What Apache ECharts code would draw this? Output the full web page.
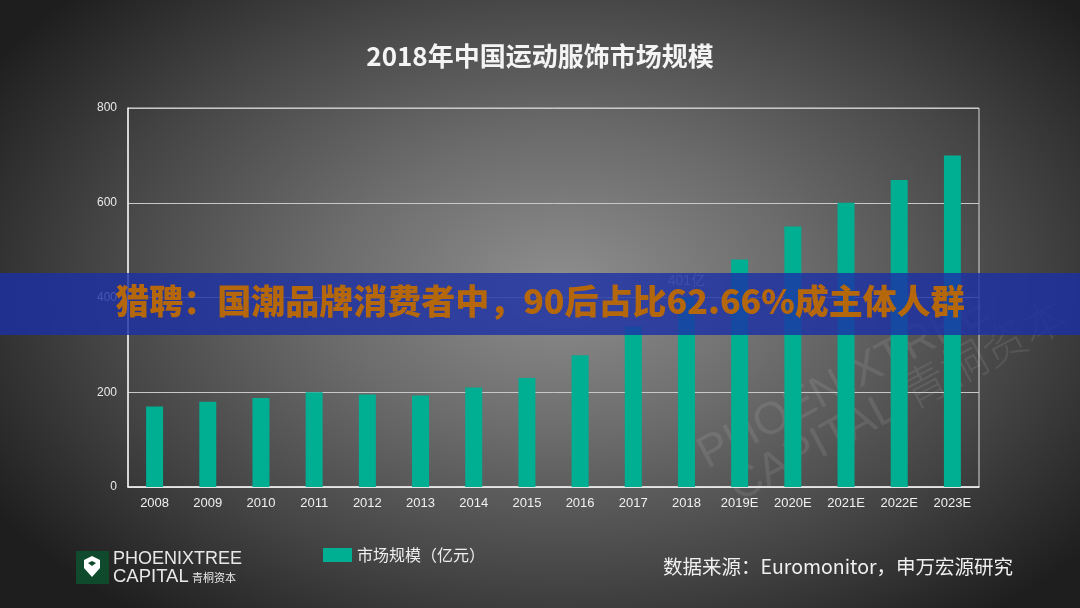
<!DOCTYPE html>
<html><head><meta charset="utf-8">
<script src="https://cdn.jsdelivr.net/npm/echarts@6/dist/echarts.min.js"></script>
<style>
html,body{margin:0;padding:0;}
#c{width:1080px;height:608px;background:radial-gradient(ellipse 62% 70% at 52% 47%, #8e8e8e 0%, #6c6c6c 35%, #444 70%, #1e1e1e 100%);}
</style></head>
<body><div id="c"></div>
<script>
const title = '2018年中国运动服饰市场规模';
const categories = ['2008','2009','2010','2011','2012','2013','2014','2015','2016','2017','2018','2019E','2020E','2021E','2022E','2023E'];
const marketSize = [170,180,188,200,195,193,210,230,278,338,401,480,550,600,648,700];
const seriesName = '市场规模（亿元）';
const labelledIndex = 10;
const labelText = '401亿';
const yTicks = [0,200,400,600,800];
const bannerText = '猎聘：国潮品牌消费者中，90后占比62.66%成主体人群';
const sourceText = '数据来源：Euromonitor，申万宏源研究';

const chart = echarts.init(document.getElementById('c'), null, {renderer:'canvas'});
const font = '"Noto Sans CJK SC","Liberation Sans",sans-serif';
chart.setOption({
  backgroundColor: 'transparent',
  animation: false,
  title: {text: title, left: 'center', top: 38,
    textStyle: {color: '#f4f4f4', fontSize: 26, fontWeight: 'bold', fontFamily: font}},
  legend: {data: [{name: seriesName, icon: 'rect'}], left: 318, top: 542, itemWidth: 29, itemHeight: 14, itemGap: 6,
    textStyle: {color: '#eeeeee', fontSize: 16, fontFamily: font}},
  grid: {left: 128, right: 101, top: 108, bottom: 121, show: true, borderColor: '#d8d8d8', borderWidth: 1},
  xAxis: {type: 'category', data: categories,
    axisLine: {lineStyle: {color: '#eeeeee', width: 1.5}}, axisTick: {show: false},
    axisLabel: {color: '#f0f0f0', fontSize: 13, margin: 10, fontFamily: '"Liberation Sans",Arial,sans-serif'}},
  yAxis: {type: 'value', min: yTicks[0], max: yTicks[yTicks.length-1], interval: 200,
    axisLine: {show: true, lineStyle: {color: '#eeeeee', width: 1.5}}, axisTick: {show: false},
    splitLine: {lineStyle: {color: '#c8c8c8', width: 1}},
    axisLabel: {color: '#e8e8e8', fontSize: 12, margin: 11, fontFamily: '"Liberation Sans",Arial,sans-serif'}},
  series: [{name: seriesName, type: 'bar', barWidth: 17,
    itemStyle: {color: '#00ae92'},
    data: marketSize.map((v,i) => i === labelledIndex ? {value: v, label: {show: true, position: 'top', distance: 9, formatter: labelText, color: '#c8c8d0', fontSize: 14, fontFamily: '"Liberation Sans",' + font}} : v)}],
  graphic: [
    {type: 'group', x: 712, y: 478, rotation: Math.PI*28/180, z: 1, silent: true, children: [
      {type: 'text', x: 0, y: 0, style: {text: 'PHOENIXTREE', fill: 'rgba(255,255,255,0.09)', font: '300 45px "Liberation Sans",sans-serif', textVerticalAlign: 'bottom'}},
      {type: 'text', x: 12, y: 44, style: {text: 'CAPITAL 青桐资本', fill: 'rgba(255,255,255,0.09)', font: '300 45px "Liberation Sans","Noto Sans CJK SC",sans-serif', textVerticalAlign: 'bottom'}}
    ]},
    {type: 'rect', left: 0, top: 273, shape: {width: 1080, height: 62}, z: 100,
      style: {fill: 'rgba(28,48,165,0.80)'}},
    {type: 'text', left: 'center', top: 284, z: 101,
      style: {text: bannerText, fill: '#b5670c', font: '900 34px "Noto Sans CJK SC",sans-serif'}},
    {type: 'rect', left: 76, top: 551, shape: {width: 33, height: 33}, z: 10, style: {fill: '#0f4a2c'}},
    {type: 'polygon', z: 11, shape: {points: [[84,560],[92,556],[100,560],[100,568],[92,577],[84,568]]}, style: {fill: '#ffffff'}},
    {type: 'polygon', z: 12, shape: {points: [[88,563],[92,561],[96,563],[92,566]]}, style: {fill: '#0f4a2c'}},
    {type: 'text', left: 113, top: 550, z: 10, style: {text: 'PHOENIXTREE', fill: '#e8e8e8', font: '18px "Liberation Sans",sans-serif'}},
    {type: 'text', left: 113, top: 567, z: 10, style: {text: 'CAPITAL', fill: '#e8e8e8', font: '18.5px "Liberation Sans",sans-serif'}},
    {type: 'text', left: 192, top: 572, z: 10, style: {text: '青桐资本', fill: '#e8e8e8', font: '11px "Noto Sans CJK SC",sans-serif'}},
    {type: 'text', left: 663, top: 557, z: 10, style: {text: sourceText, fill: '#f0f0f0', font: '19.5px "Noto Sans CJK SC",sans-serif'}}
  ]
});
</script></body></html>
